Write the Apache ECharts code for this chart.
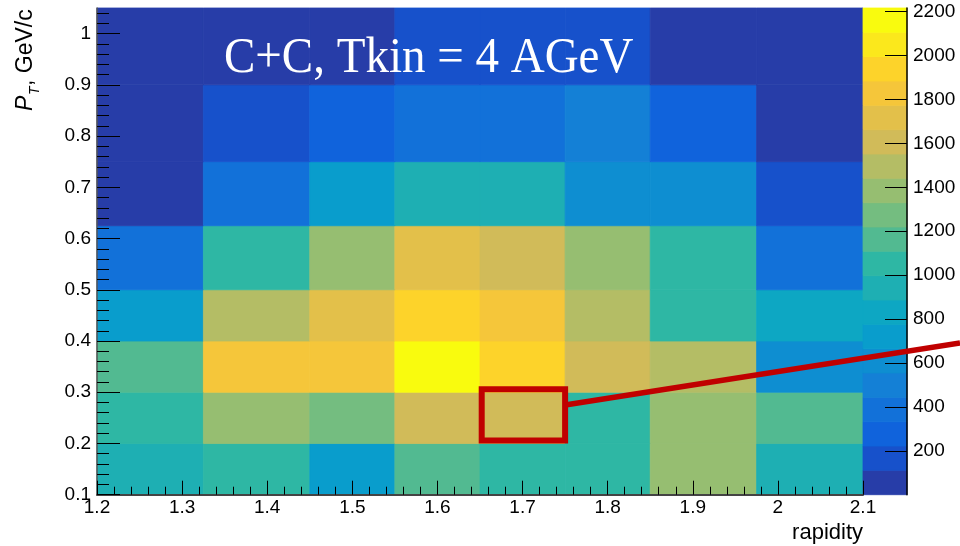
<!DOCTYPE html>
<html>
<head>
<meta charset="utf-8">
<script src="https://cdn.jsdelivr.net/npm/echarts@6/dist/echarts.min.js"></script>
<style>
  html, body { margin: 0; padding: 0; background: #fff; }
  #chart { width: 960px; height: 546px; }
</style>
</head>
<body>
<div id="chart"></div>
<script>
// Bin edges of the 2D histogram: rapidity (x) and transverse momentum (y)
const rapidityEdges = [1.2, 1.325, 1.45, 1.55, 1.65, 1.75, 1.85, 1.975, 2.1];
const ptEdges = [0.1, 0.2, 0.3, 0.4, 0.5, 0.625, 0.75, 0.9, 1.05];

// Entries per pT bin, one value per rapidity bin (left to right)
const countsPt010to020 = [938, 1052, 718, 1162, 1047, 1061, 1392, 931];
const countsPt020to030 = [1058, 1384, 1268, 1604, 1611, 1049, 1379, 1157];
const countsPt030to040 = [1163, 1827, 1836, 2217, 1942, 1607, 1493, 612];
const countsPt040to050 = [714, 1497, 1719, 1948, 1831, 1488, 1044, 829];
const countsPt050to0625 = [391, 1056, 1388, 1722, 1603, 1376, 1062, 384];
const countsPt0625to075 = [64, 392, 723, 941, 936, 611, 602, 168];
const countsPt075to090 = [57, 163, 276, 389, 381, 497, 271, 48];
const countsPt090to105 = [21, 43, 72, 158, 171, 149, 58, 26];

// Tick labels
const rapidityTicks = [1.2, 1.3, 1.4, 1.5, 1.6, 1.7, 1.8, 1.9, 2.0, 2.1];
const ptTicks = [0.1, 0.2, 0.3, 0.4, 0.5, 0.6, 0.7, 0.8, 0.9, 1.0];
const countTicks = [200, 400, 600, 800, 1000, 1200, 1400, 1600, 1800, 2000, 2200];

// Highlighted bin frame [x0, x1, y0, y1] and the pointer leaving it [[x, y], [x, y]]
const highlightBox = [1.652, 1.75, 0.206, 0.306];
const pointerLine = [[1.75, 0.275], [2.214, 0.396]];

const countsByPt = [countsPt010to020, countsPt020to030, countsPt030to040, countsPt040to050,
                    countsPt050to0625, countsPt0625to075, countsPt075to090, countsPt090to105];

const cells = [];
countsByPt.forEach((row, j) => {
  row.forEach((v, i) => {
    cells.push([rapidityEdges[i], rapidityEdges[i + 1], ptEdges[j], ptEdges[j + 1], v]);
  });
});
const zMax = Math.max.apply(null, cells.map(c => c[4]));
const nContours = 20;

// "Bird" colour palette with discrete contour levels
const birdStops = [0.0, 0.125, 0.25, 0.375, 0.5, 0.625, 0.75, 0.875, 1.0];
const birdR = [0.2082, 0.0592, 0.0780, 0.0232, 0.1802, 0.5301, 0.8186, 0.9956, 0.9764];
const birdG = [0.1664, 0.3599, 0.5041, 0.6419, 0.7178, 0.7492, 0.7328, 0.7862, 0.9832];
const birdB = [0.5293, 0.8684, 0.8385, 0.7914, 0.6425, 0.4662, 0.3499, 0.1968, 0.0539];
function bird(f) {
  let k = 0;
  while (k < birdStops.length - 2 && f > birdStops[k + 1]) k++;
  const t = (f - birdStops[k]) / (birdStops[k + 1] - birdStops[k]);
  const c = arr => Math.round(255 * (arr[k] + (arr[k + 1] - arr[k]) * t));
  return 'rgb(' + c(birdR) + ',' + c(birdG) + ',' + c(birdB) + ')';
}
function levelColor(level) {
  const idx = Math.floor((level + 0.99) * 255 / nContours);
  return bird(Math.min(idx, 254) / 254);
}
function levelOf(v) {
  return Math.min(nContours - 1, Math.floor(0.01 + v * nContours / zMax));
}

const bands = [];
for (let k = 0; k < nContours; k++) {
  bands.push([0, 1, k * zMax / nContours, (k + 1) * zMax / nContours, k]);
}

// minor ticks on the pT axis every 0.02
const ptMinorTicks = [];
for (let i = 5; i <= 52; i++) {
  if (i % 5 !== 0) ptMinorTicks.push(+(i * 0.02).toFixed(2));
}

const FONT = 'Liberation Sans';

function rectItem(api, x0, x1, y0, y1, fill) {
  const p0 = api.coord([x0, y0]);
  const p1 = api.coord([x1, y1]);
  return {
    type: 'rect',
    shape: { x: p0[0], y: p1[1], width: p1[0] - p0[0], height: p0[1] - p1[1] },
    style: { fill: fill, stroke: fill, lineWidth: 0.8 }
  };
}

const chart = echarts.init(document.getElementById('chart'), null, { renderer: 'canvas' });
chart.setOption({
  animation: false,
  backgroundColor: '#ffffff',
  grid: [
    { left: 97, right: 97, top: 8, bottom: 51.3, containLabel: false, outerBoundsMode: 'none' },
    { left: 863, right: 53, top: 8, bottom: 51.3, containLabel: false, outerBoundsMode: 'none' }
  ],
  xAxis: [
    {
      type: 'value', gridIndex: 0, min: 1.2, max: 2.1, interval: 0.1, z: 6,
      axisLine: { show: true, onZero: false, lineStyle: { color: '#444', width: 2 } },
      axisTick: { show: true, inside: true, length: 14, lineStyle: { color: '#000', width: 1 } },
      minorTick: { show: true, splitNumber: 5, length: 8, lineStyle: { color: '#000', width: 1 } },
      axisLabel: {
        show: true, margin: 4, fontFamily: FONT, fontSize: 19, color: '#000',
        customValues: rapidityTicks,
        formatter: v => String(+(+v).toFixed(2))
      },
      splitLine: { show: false }, minorSplitLine: { show: false }
    },
    { type: 'value', gridIndex: 1, min: 0, max: 1, show: false }
  ],
  yAxis: [
    {
      type: 'value', gridIndex: 0, min: 0.1, max: 1.05, interval: 0.1, position: 'left', z: 6,
      axisLine: { show: true, onZero: false, lineStyle: { color: '#555', width: 1.5 } },
      axisTick: { show: true, inside: true, length: 23, customValues: ptTicks, lineStyle: { color: '#000', width: 1 } },
      axisLabel: {
        show: true, margin: 6, fontFamily: FONT, fontSize: 19, color: '#000',
        customValues: ptTicks,
        formatter: v => String(+(+v).toFixed(2))
      },
      splitLine: { show: false }
    },
    {
      type: 'value', gridIndex: 0, min: 0.1, max: 1.05, interval: 0.1, position: 'left', z: 6,
      axisLine: { show: false },
      axisTick: { show: true, inside: true, length: 12, customValues: ptMinorTicks, lineStyle: { color: '#000', width: 1 } },
      axisLabel: { show: false },
      splitLine: { show: false }
    },
    {
      type: 'value', gridIndex: 1, min: 0, max: zMax, interval: 200, position: 'right', z: 6,
      axisLine: { show: true, onZero: false, lineStyle: { color: '#000', width: 1.5 } },
      axisTick: { show: true, inside: true, length: 22, customValues: countTicks, lineStyle: { color: '#000', width: 1 } },
      axisLabel: {
        show: true, margin: 6, fontFamily: FONT, fontSize: 19, color: '#000',
        customValues: countTicks,
        formatter: v => String(Math.round(v))
      },
      splitLine: { show: false }
    }
  ],
  series: [
    {
      name: 'counts', type: 'custom', xAxisIndex: 0, yAxisIndex: 0, z: 2,
      data: cells,
      encode: { x: [0, 1], y: [2, 3] },
      renderItem: (params, api) => rectItem(api, api.value(0), api.value(1), api.value(2), api.value(3),
        levelColor(levelOf(api.value(4))))
    },
    {
      name: 'palette', type: 'custom', xAxisIndex: 1, yAxisIndex: 2, z: 2,
      data: bands,
      encode: { x: [0, 1], y: [2, 3] },
      renderItem: (params, api) => rectItem(api, api.value(0), api.value(1), api.value(2), api.value(3),
        levelColor(api.value(4)))
    },
    {
      name: 'highlight', type: 'custom', xAxisIndex: 0, yAxisIndex: 0, z: 10, clip: false,
      data: [[0]],
      renderItem: (params, api) => {
        const a = api.coord([highlightBox[0], highlightBox[3]]);
        const b = api.coord([highlightBox[1], highlightBox[2]]);
        const l0 = api.coord(pointerLine[0]);
        const l1 = api.coord(pointerLine[1]);
        return {
          type: 'group',
          children: [
            {
              type: 'line',
              shape: { x1: l0[0], y1: l0[1], x2: l1[0], y2: l1[1] },
              style: { stroke: '#c00000', lineWidth: 5.5 }
            },
            {
              type: 'rect',
              shape: { x: a[0], y: a[1], width: b[0] - a[0], height: b[1] - a[1] },
              style: { fill: null, stroke: '#c00000', lineWidth: 6 }
            }
          ]
        };
      }
    }
  ],
  graphic: [
    {
      type: 'text', x: 224, y: 59, scaleX: 0.94, z: 20,
      style: {
        text: 'C+C, Tkin = 4 AGeV', fill: '#ffffff',
        font: '50px "Liberation Serif"', align: 'left', verticalAlign: 'middle'
      }
    },
    {
      type: 'group', x: 26, y: 111, rotation: Math.PI / 2, z: 20,
      children: [
        { type: 'text', x: 0, y: 0, style: { text: 'P', font: 'italic 23px "Liberation Sans"', fill: '#000', align: 'left', verticalAlign: 'middle' } },
        { type: 'text', x: 16, y: 9, style: { text: 'T', font: 'italic 14px "Liberation Sans"', fill: '#000', align: 'left', verticalAlign: 'middle' } },
        { type: 'text', x: 25, y: 0, style: { text: ', GeV/c', font: '23px "Liberation Sans"', fill: '#000', align: 'left', verticalAlign: 'middle' } }
      ]
    },
    {
      type: 'text', x: 863, y: 533, z: 20,
      style: { text: 'rapidity', font: '22px "Liberation Sans"', fill: '#000', align: 'right', verticalAlign: 'middle' }
    }
  ]
});
</script>
</body>
</html>
